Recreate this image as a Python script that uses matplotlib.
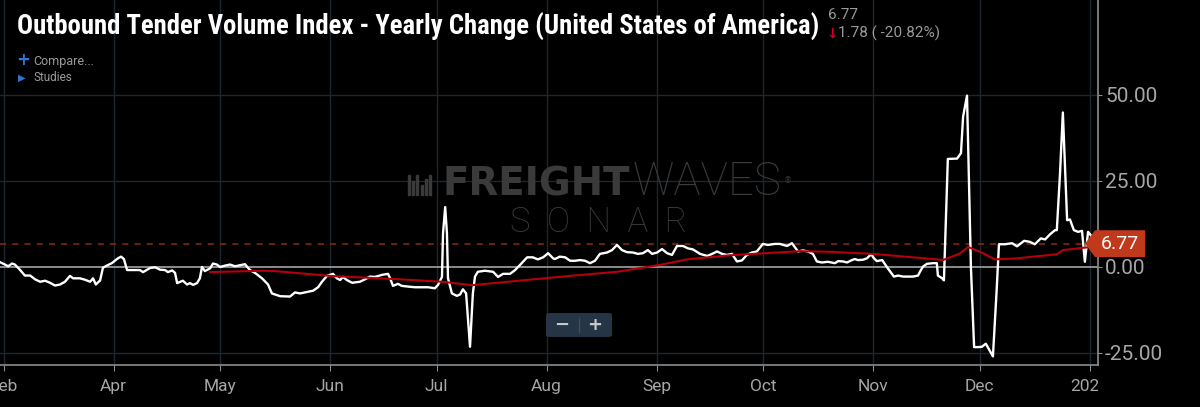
import numpy as np
import pandas as pd
import matplotlib
matplotlib.use("Agg")
import matplotlib.pyplot as plt
import matplotlib.transforms as mtransforms
from matplotlib.patches import Polygon, FancyBboxPatch, Rectangle


start = pd.Timestamp("2019-02-28")

# outbound tender volume index, yearly change (%), days after start
otvi_days = [0.0, 1.4, 2.3, 3.4, 4.2, 5.6, 7.0, 8.5, 9.9, 11.3,
             12.7, 14.1, 15.5, 16.9, 18.3, 19.7, 20.6, 22.5, 23.9, 25.4,
             26.2, 27.0, 28.2, 29.0, 30.1, 31.5, 33.2, 34.1, 34.9, 35.8,
             36.6, 39.4, 40.3, 42.3, 43.7, 45.1, 46.5, 47.3, 48.5, 49.3,
             49.9, 51.5, 52.7, 53.5, 54.4, 55.5, 56.3, 56.9, 57.7, 59.2,
             60.0, 61.1, 62.0, 63.4, 64.8, 66.2, 67.6, 69.0, 70.4, 71.8,
             73.8, 75.5, 76.6, 78.9, 81.7, 83.1, 84.5, 85.9, 88.2, 89.6,
             90.7, 92.1, 93.8, 94.9, 95.8, 96.6, 97.7, 99.2, 101.4, 102.8,
             104.2, 105.6, 107.6, 109.3, 109.9, 110.7, 112.1, 113.2, 114.9, 116.9,
             118.9, 120.6, 122.5, 123.4, 124.5, 124.8, 125.4, 125.9, 126.2, 127.3,
             128.7, 129.6, 130.4, 131.3, 132.4, 133.2, 133.8, 134.6, 136.6, 138.9,
             140.3, 141.7, 143.7, 145.1, 146.5, 148.5, 150.1, 151.5, 153.0, 154.4,
             155.8, 156.3, 157.7, 159.2, 160.6, 162.0, 163.4, 164.8, 166.2, 167.6,
             169.0, 171.0, 172.4, 173.8, 175.2, 176.6, 178.3, 179.7, 181.1, 182.5,
             183.7, 185.1, 186.5, 187.9, 189.3, 190.7, 192.4, 193.8, 195.2, 197.2,
             199.2, 200.6, 202.0, 203.4, 204.8, 206.2, 207.6, 209.0, 210.4, 211.8,
             213.2, 214.9, 216.3, 218.3, 219.7, 221.7, 223.1, 224.8, 226.2, 227.6,
             229.0, 230.1, 231.5, 233.2, 235.2, 236.1, 237.5, 238.6, 240.0, 240.8,
             241.7, 243.1, 244.2, 245.4, 246.2, 247.0, 248.5, 249.3, 250.1, 251.3,
             251.8, 253.0, 254.4, 255.8, 257.2, 258.6, 259.2, 260.0, 261.1, 262.8,
             263.9, 264.2, 265.4, 265.9, 267.0, 269.6, 270.7, 271.3, 272.4, 273.5,
             274.4, 275.5, 276.6, 277.7, 279.7, 280.8, 281.4, 283.1, 285.1, 286.5,
             288.5, 290.1, 291.5, 293.2, 294.4, 295.8, 297.2, 297.7, 298.6, 299.4,
             300.6, 301.4, 302.5, 303.7, 304.8, 305.6, 306.5, 307.6, 308.2]
otvi_vals = [1.4, 0.7, 0.2, 1.0, 0.7, -0.8, -2.5, -2.5, -3.6, -4.3,
             -4.0, -4.6, -5.4, -5.1, -4.3, -2.6, -3.3, -3.3, -3.7, -4.3,
             -3.3, -5.1, -3.9, -0.2, 0.4, 1.1, 2.5, 3.0, 2.3, -0.9,
             -0.9, -0.9, -1.5, -0.3, -0.1, -0.8, -0.9, -1.5, -1.0, -1.7,
             -4.7, -4.0, -5.1, -4.7, -5.2, -4.7, -3.3, 0.0, -1.2, -0.4,
             1.0, 0.7, 0.0, 0.4, 0.7, 0.2, 0.5, 0.8, -0.9, -1.7,
             -3.3, -5.1, -7.7, -8.5, -8.6, -7.4, -7.7, -7.4, -6.9, -5.9,
             -4.3, -2.6, -2.0, -3.3, -3.8, -2.9, -3.8, -4.6, -4.3, -3.6,
             -2.8, -2.9, -2.3, -2.0, -3.3, -5.5, -4.9, -5.5, -5.7, -5.9,
             -5.9, -5.9, -6.2, -5.2, -2.9, 9.8, 17.4, 9.8, -3.3, -7.7,
             -8.4, -8.0, -6.5, -7.7, -23.2, -7.7, -2.8, -1.4, -1.1, -1.4,
             -2.9, -2.0, -2.0, -0.9, 0.6, 2.8, 2.8, 2.2, 2.8, 4.0,
             2.5, 2.3, 3.0, 2.8, 1.8, 1.8, 2.0, 1.8, 1.1, 1.8,
             3.8, 4.2, 4.9, 6.4, 4.9, 4.3, 4.2, 3.8, 4.0, 4.9,
             3.8, 4.2, 5.2, 4.0, 3.5, 6.1, 6.1, 5.4, 5.1, 3.8,
             3.2, 3.8, 4.5, 3.8, 3.5, 3.8, 1.6, 1.9, 3.5, 4.2,
             4.5, 6.7, 6.4, 6.7, 6.7, 6.1, 6.9, 4.5, 4.8, 4.5,
             3.8, 1.6, 1.3, 1.5, 1.1, 1.7, 1.6, 1.3, 2.0, 2.3,
             2.0, 2.1, 2.5, 3.7, 2.5, 1.7, 2.0, 0.8, -0.4, -2.1,
             -2.8, -2.5, -2.8, -2.8, -2.8, -2.5, -1.3, 0.1, 0.9, 1.1,
             1.1, -2.5, -3.3, -3.9, 31.4, 31.5, 33.1, 43.7, 49.8, 0.0,
             -23.3, -23.3, -23.2, -22.3, -26.0, -5.8, 6.6, 6.6, 6.9, 6.0,
             7.6, 7.3, 6.6, 8.3, 8.0, 9.5, 10.7, 10.7, 27.2, 44.9,
             13.6, 13.8, 10.7, 10.2, 10.5, 1.5, 10.2, 8.8, 6.77]

# red moving average line
ma_days = [59.2, 74.1, 77.5, 93.0, 112.7, 124.5, 133.0, 143.1, 156.3, 173.8,
           185.9, 193.5, 205.6, 220.6, 225.4, 233.8, 245.9, 263.9, 265.6, 270.4,
           272.7, 276.1, 280.3, 286.5, 297.7, 299.4, 306.2]
ma_vals = [-1.5, -1.1, -1.2, -2.6, -3.6, -4.3, -5.3, -4.3, -3.0, -1.4,
           0.6, 2.2, 3.4, 4.3, 4.6, 4.4, 3.8, 2.2, 2.0, 3.9,
           5.8, 4.4, 2.2, 2.5, 3.7, 4.9, 5.7]

last_value = 6.77
change = 1.78
change_pct = -20.82

tick_dates = ["2019-03-01", "2019-04-01", "2019-05-01", "2019-06-01", "2019-07-01",
              "2019-08-01", "2019-09-01", "2019-10-01", "2019-11-01", "2019-12-01",
              "2020-01-01"]
tick_labels = ["Feb", "Apr", "May", "Jun", "Jul", "Aug", "Sep", "Oct", "Nov", "Dec", "2020"]
y_ticks = [-25, 0, 25, 50]

title = "Outbound Tender Volume Index - Yearly Change (United States of America)"

W, H = 1200, 407


def fx(px):
    return px / W


def fy(py):
    return 1 - py / H


otvi_x = start + pd.to_timedelta(otvi_days, unit="D")
ma_x = start + pd.to_timedelta(ma_days, unit="D")

fig = plt.figure(figsize=(12, 4.07), dpi=100, facecolor="black")
ax = fig.add_axes([0, fy(365), fx(1098), 365 / H])
ax.set_facecolor("black")

grid_c = "#1b2631"
for d in tick_dates:
    ax.axvline(pd.Timestamp(d), color=grid_c, lw=1, zorder=0)
for v in y_ticks:
    if v != 0:
        ax.axhline(v, color=grid_c, lw=1, zorder=0)
ax.axhline(0, color="#8c8c8c", lw=1.4, zorder=1)
ax.axhline(last_value, color="#8a2a1a", lw=1.1, ls=(0, (4, 4)), zorder=1)

ax.plot(otvi_x, otvi_vals, color="white", lw=1.7, zorder=3)
ax.plot(ma_x, ma_vals, color="#b3000c", lw=1.5, zorder=4)

ax.set_xlim(start, start + pd.Timedelta(days=309.3))
ax.set_ylim(-28.5, 77.6)

for s in ["top", "left"]:
    ax.spines[s].set_visible(False)
for s in ["bottom", "right"]:
    ax.spines[s].set_color("#8c8c8c")
    ax.spines[s].set_linewidth(1.2)

ax.yaxis.tick_right()
ax.set_yticks(y_ticks)
ax.set_yticklabels([f"{v:.2f}" for v in y_ticks])
ax.tick_params(axis="y", colors="#8c8c8c", labelcolor="#a6a6a6", labelsize=15,
               length=3, pad=2)
ax.set_xticks([pd.Timestamp(d) for d in tick_dates])
ax.set_xticklabels(tick_labels)
ax.tick_params(axis="x", colors="#8c8c8c", labelcolor="#a6a6a6", labelsize=12.5,
               length=4, pad=6)
for lab in ax.get_xticklabels() + ax.get_yticklabels():
    lab.set_fontfamily("Roboto")
clip = Rectangle((0, 0), fx(1098), 1, transform=fig.transFigure)
for lab in ax.get_xticklabels():
    lab.set_clip_path(clip)

# last value callout
blend = mtransforms.blended_transform_factory(ax.transAxes, ax.transData)
hh = 3.9
x_tip, x_l, x_r = 1085 / 1098, 1095 / 1098, 1145 / 1098
ax.add_patch(Polygon([(x_tip, last_value), (x_l, last_value + hh), (x_r, last_value + hh),
                      (x_r, last_value - hh), (x_l, last_value - hh)],
                     closed=True, transform=blend, facecolor="#c0391b",
                     edgecolor="none", clip_on=False, zorder=6))
ax.text(1120 / 1098, last_value, f"{last_value:.2f}", transform=blend, color="white",
        fontsize=14, family="Roboto", ha="center", va="center", zorder=7, clip_on=False)

# header texts
t_title = fig.text(fx(17), fy(35), title, color="white", fontsize=20, fontweight="bold",
                   family=["Roboto Condensed", "Liberation Sans Narrow", "Roboto"],
                   va="baseline")


def fit_width(txt, target):
    fig.canvas.draw()
    w = txt.get_window_extent(fig.canvas.get_renderer()).width
    txt.set_fontsize(txt.get_fontsize() * target / w)


fit_width(t_title, 798)

fig.text(fx(828), fy(19), f"{last_value:.2f}", color="#9a9a9a", fontsize=11,
         family="Roboto", va="baseline")
fig.text(fx(826), fy(38), "\u2193", color="#d0021b", fontsize=10, fontweight="bold",
         family="DejaVu Sans", va="baseline")
fig.text(fx(838), fy(38), f"{change:.2f} ( {change_pct:.2f}%)", color="#9a9a9a",
         fontsize=11, family="Roboto", va="baseline")

fig.text(fx(16), fy(65), "+", color="#2f74d0", fontsize=12, fontweight="bold",
         family="DejaVu Sans", va="baseline")
fig.text(fx(33), fy(65), "Compare...", color="#9a9a9a", fontsize=9,
         family="Roboto", va="baseline")
fig.text(fx(18), fy(81), "\u25B6", color="#2f74d0", fontsize=7,
         family="DejaVu Sans", va="baseline")
fig.text(fx(33), fy(81), "Studies", color="#9a9a9a", fontsize=8.5,
         family="Roboto", va="baseline")

# watermark
wm = "#3a3a3a"
for i, hgt in enumerate([20, 14, 20, 10, 16, 20]):
    fig.patches.append(Rectangle((fx(408 + i * 4.2), fy(195)), fx(2), hgt / H,
                                 transform=fig.transFigure, color=wm, zorder=0.5))
t_fr = fig.text(fx(443), fy(195), "FREIGHT", color=wm, fontsize=20, fontweight="heavy",
                family="DejaVu Sans", va="baseline", zorder=0.5)
t_wa = fig.text(fx(633), fy(195), "WAVES", color=wm, fontsize=20, fontweight="light",
                family="Roboto", va="baseline", zorder=0.5)
fig.text(fx(784), fy(183), "\u00AE", color=wm, fontsize=6, family="DejaVu Sans",
         va="baseline", zorder=0.5)
t_so = fig.text(fx(510), fy(232), "S  O  N  A  R", color=wm, fontsize=22,
                fontweight="light", family="Roboto", va="baseline", zorder=0.5)
fit_width(t_fr, 187)
fit_width(t_wa, 149)
fit_width(t_so, 177)

# zoom buttons
fig.patches.append(FancyBboxPatch((fx(546), fy(337)), fx(66), 24 / H,
                                  boxstyle="round,pad=0,rounding_size=0.004",
                                  transform=fig.transFigure, facecolor="#263545",
                                  edgecolor="none", zorder=5))
fig.lines.append(plt.Line2D([fx(579), fx(579)], [fy(332), fy(318)],
                            transform=fig.transFigure, color="#3d4e60", lw=1, zorder=6))
fig.text(fx(562), fy(325), "\u2212", color="#c8c8c8", fontsize=13, fontweight="bold",
         family="DejaVu Sans", ha="center", va="center", zorder=6)
fig.text(fx(595), fy(325), "+", color="#c8c8c8", fontsize=13, fontweight="bold",
         family="DejaVu Sans", ha="center", va="center", zorder=6)

fig.savefig("out.png", dpi=100, facecolor="black")
